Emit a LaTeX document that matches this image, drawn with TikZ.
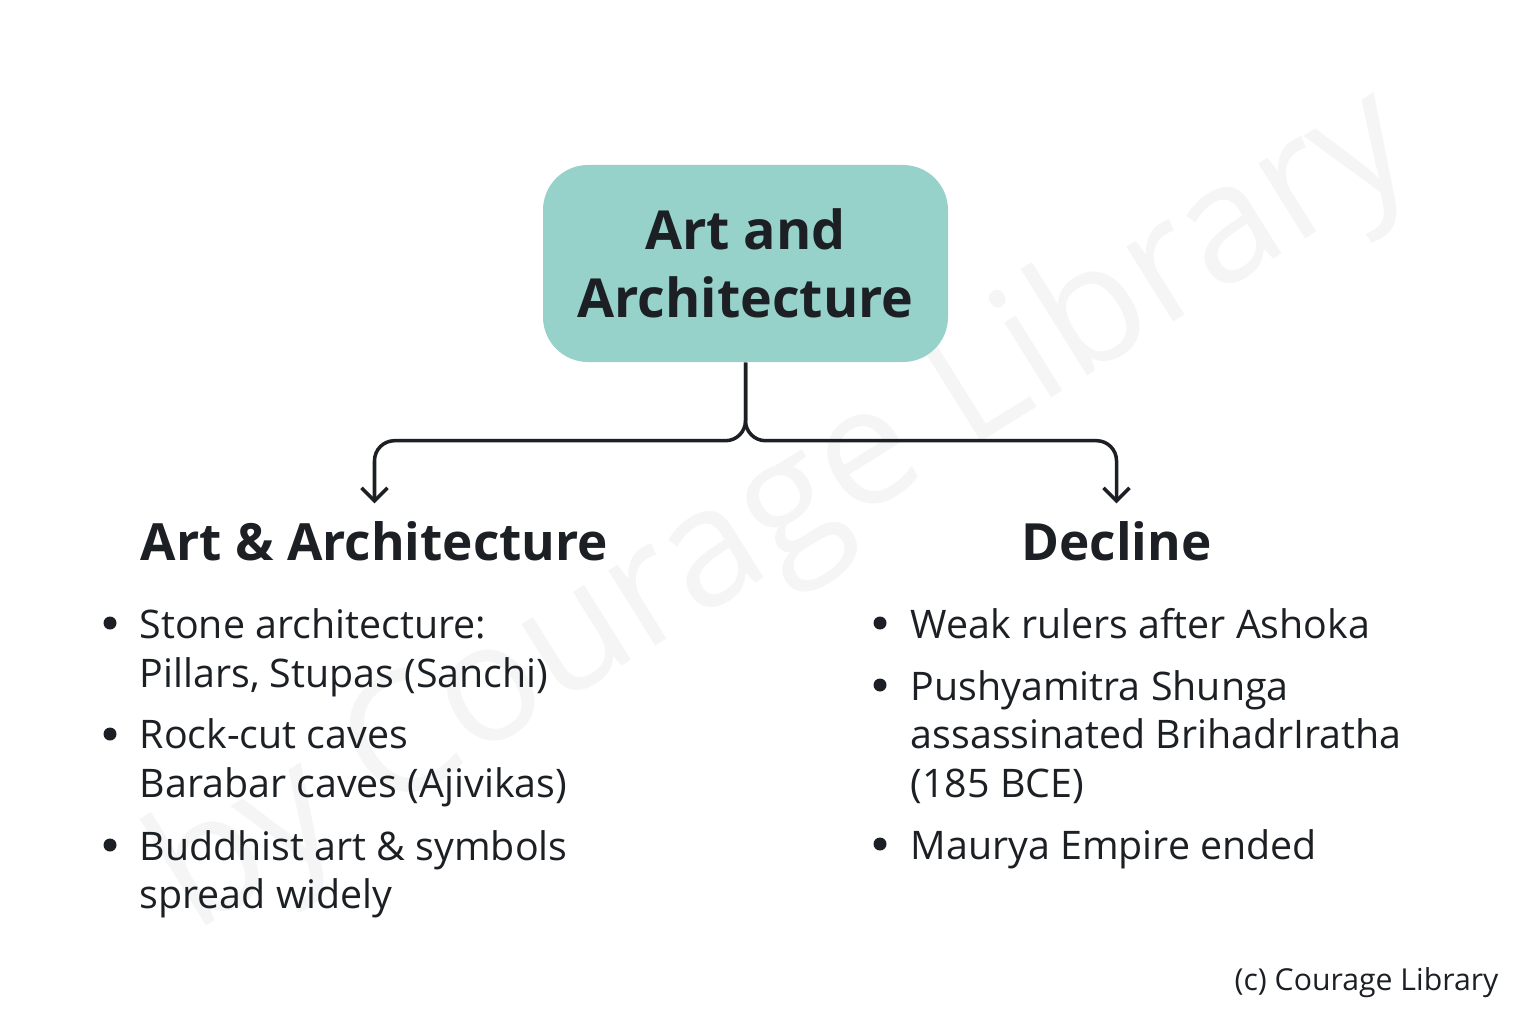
\documentclass[tikz,border=0pt]{standalone}
\usepackage{fontspec}
\setmainfont{Open Sans}
\usepackage{tikz}
\usetikzlibrary{arrows.meta}

\definecolor{boxteal}{HTML}{96D1CA}
\definecolor{ink}{HTML}{1C2024}

\begin{document}
\begin{tikzpicture}[
    mainbox/.style={fill=boxteal, rounded corners=0.45cm, minimum width=4.05cm,
        minimum height=1.97cm, align=center, text=ink,
        font=\fontsize{15.3}{19.35}\selectfont\bfseries},
    headtext/.style={text=ink, inner sep=0.17cm, anchor=base,
        font=\fontsize{14.6}{19}\selectfont\bfseries},
    itemtext/.style={text=ink, inner sep=0pt, anchor=base west, align=left,
        font=\fontsize{11.2}{13.66}\selectfont},
    dot/.style={circle, fill=ink, inner sep=0pt, minimum size=0.13cm},
    link/.style={ink, line width=1pt, rounded corners=0.2cm,
        -{Straight Barb[length=1.3mm, width=2.6mm]}}
]
    \useasboundingbox (0,0) rectangle (15.36,10.24);

    % faint watermark
    \node(mark) at (7.85, 5.1) [rotate=32, text=black!4,
        font=\fontsize{47}{52}\selectfont] {by Courage Library};

    \node[mainbox](top) at (7.455, 7.605) {Art and\\Architecture};

    \node[headtext](arthead)  at (3.745, 4.64) {Art \& Architecture};
    \node[headtext](declhead) at (11.165, 4.64) {Decline};

    \draw[link] (top.south) -- ++(0,-0.78) -| (arthead.north);
    \draw[link] (top.south) -- ++(0,-0.78) -| (declhead.north);

    % left list (base = last line)
    \node[dot] (adot1) at (1.10, 4.01) {};
    \node[dot] (adot2) at (1.10, 2.90) {};
    \node[dot] (adot3) at (1.10, 1.79) {};
    \node[itemtext] (a1) at (1.39, 3.37) {Stone architecture:\\Pillars, Stupas (Sanchi)};
    \node[itemtext] (a2) at (1.39, 2.27) {Rock-cut caves\\Barabar caves (Ajivikas)};
    \node[itemtext] (a3) at (1.39, 1.16) {Buddhist art \& symbols\\spread widely};

    % right list
    \node[dot] (ddot1) at (8.80, 4.01) {};
    \node[dot] (ddot2) at (8.80, 3.39) {};
    \node[dot] (ddot3) at (8.80, 1.80) {};
    \node[itemtext] (d1) at (9.10, 3.86) {Weak rulers after Ashoka};
    \node[itemtext] (d2) at (9.10, 2.27) {Pushyamitra Shunga\\assassinated BrihadrIratha\\(185 BCE)};
    \node[itemtext] (d3) at (9.10, 1.65) {Maurya Empire ended};

    \node(credit) at (13.665, 0.41) [text=ink, font=\fontsize{8.6}{10}\selectfont] {(c) Courage Library};
\end{tikzpicture}
\end{document}
